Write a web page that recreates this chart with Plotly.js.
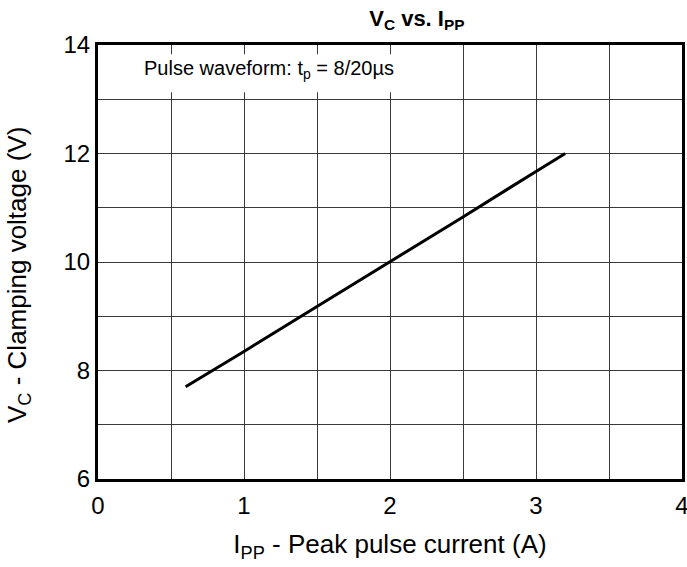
<!DOCTYPE html>
<html>
<head>
<meta charset="utf-8">
<script src="https://cdn.plot.ly/plotly-3.0.1.min.js"></script>
<style>html,body{margin:0;padding:0;background:#fff;}#chart{width:687px;height:567px;}</style>
</head>
<body>
<div id="chart"></div>
<script>
const ippCurrent = [0.6, 1.0, 1.5, 2.0, 2.5, 3.0, 3.2];
const vcVoltage = [7.7, 8.35, 9.18, 10.0, 10.83, 11.67, 12.0];
const xTicks = [0, 1, 2, 3, 4];
const yTicks = [6, 8, 10, 12, 14];
const noteText = 'Pulse waveform: t<sub>p</sub> = 8/20µs';
const yTitle = 'V<sub>C</sub> - Clamping voltage (V)';
const xTitle = 'I<sub>PP</sub> - Peak pulse current (A)';

const font = '"Liberation Sans", Arial, sans-serif';
const gridColor = '#3a3a3a';

const data = [{
  x: ippCurrent, y: vcVoltage, type: 'scatter', mode: 'lines',
  line: {color: '#000', width: 3}, hoverinfo: 'skip'
}];

const layout = {
  width: 687, height: 567,
  margin: {l: 98, r: 5, t: 45, b: 88},
  paper_bgcolor: '#fff', plot_bgcolor: '#fff',
  showlegend: false,
  font: {family: font, color: '#000', size: 24},
  title: {text: '<b>V<sub>C</sub> vs. I<sub>PP</sub></b>', font: {family: font, size: 22, color: '#000'},
          x: 0.546, xref: 'paper', xanchor: 'center', y: 0.968, yref: 'container', yanchor: 'middle'},
  xaxis: {
    range: [0, 4], tickvals: xTicks, ticktext: xTicks.map(String), ticks: '',
    showgrid: true, gridcolor: gridColor, gridwidth: 1,
    minor: {dtick: 0.5, tick0: 0, showgrid: true, gridcolor: gridColor, gridwidth: 1},
    showline: true, linecolor: '#000', linewidth: 3, mirror: true, zeroline: false,
    tickfont: {size: 24, family: font}, ticklabeloverflow: 'allow', ticklabelstandoff: 3,
    automargin: false,
    title: {text: xTitle, font: {size: 26, family: font}, standoff: 18}
  },
  yaxis: {
    range: [6, 14], tickvals: yTicks, ticktext: yTicks.map(String), ticks: '',
    showgrid: true, gridcolor: gridColor, gridwidth: 1,
    minor: {dtick: 1, tick0: 6, showgrid: true, gridcolor: gridColor, gridwidth: 1},
    showline: true, linecolor: '#000', linewidth: 3, mirror: true, zeroline: false,
    tickfont: {size: 24, family: font}, ticklabeloverflow: 'allow',
    automargin: false
  },
  shapes: [{
    type: 'rect', xref: 'x', yref: 'y', x0: 0, x1: 2.2, y0: 13.13, y1: 13.83,
    fillcolor: '#fff', line: {width: 0}, layer: 'between'
  }],
  annotations: [{
    text: noteText, xref: 'x', yref: 'y', x: 0.3, y: 13.55, xanchor: 'left', yanchor: 'middle',
    showarrow: false, font: {size: 20, family: font, color: '#000'}
  }, {
    text: yTitle, xref: 'paper', yref: 'paper', x: -0.137, y: 0.47, xanchor: 'center', yanchor: 'middle',
    textangle: -90, showarrow: false, font: {size: 26, family: font, color: '#000'}
  }]
};

Plotly.newPlot('chart', data, layout, {displayModeBar: false, staticPlot: true});
</script>
</body>
</html>
